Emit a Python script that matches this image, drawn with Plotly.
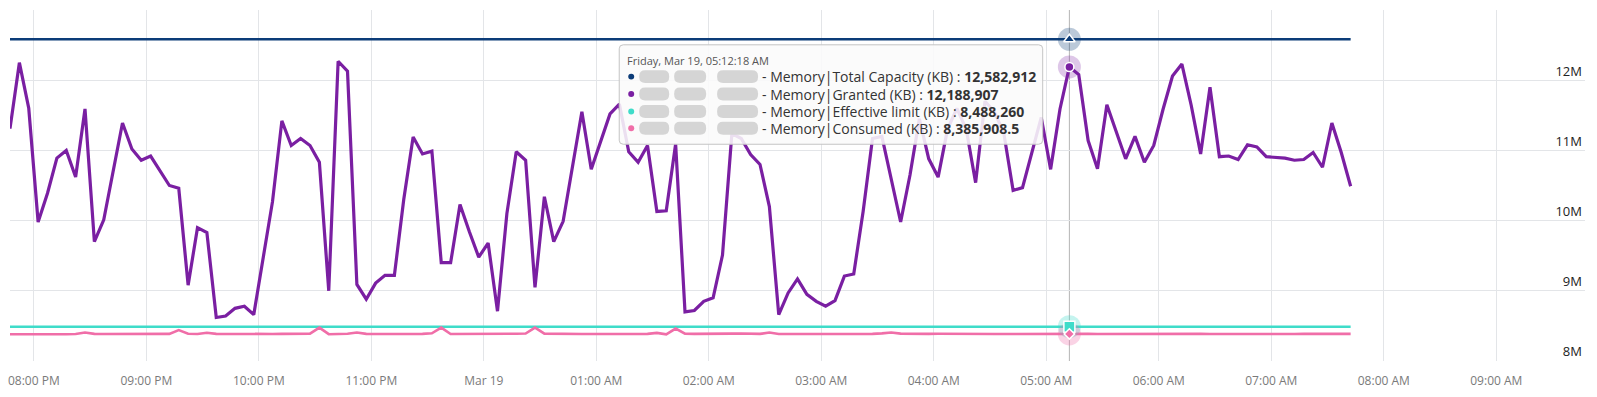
import plotly.graph_objects as go
import pandas as pd

# ---------------- data ----------------
START = "2021-03-18 19:47:18"          # first sample (5-minute interval)
HOVER_INDEX = 113                      # Friday, Mar 19, 05:12:18 AM

GRANTED_M = [
    11.31, 12.25, 11.60, 9.98, 10.39, 10.89, 11.00, 10.62, 11.59, 9.70,
    10.01, 10.69, 11.39, 11.02, 10.86, 10.92, 10.72, 10.50, 10.46, 9.08,
    9.90, 9.83, 8.62, 8.64, 8.75, 8.78, 8.66, 9.47, 10.27, 11.42,
    11.07, 11.17, 11.07, 10.83, 9.00, 12.27, 12.13, 9.09, 8.88, 9.11,
    9.22, 9.22, 10.30, 11.19, 10.95, 10.99, 9.40, 9.40, 10.23, 9.84,
    9.48, 9.68, 8.71, 10.10, 10.98, 10.86, 9.05, 10.34, 9.70, 9.99,
    10.79, 11.55, 10.73, 11.12, 11.52, 11.66, 10.98, 10.83, 11.07, 10.13,
    10.14, 11.09, 8.70, 8.72, 8.85, 8.90, 9.51, 11.24, 11.17, 10.94,
    10.80, 10.20, 8.66, 8.97, 9.17, 8.95, 8.85, 8.78, 8.86, 9.21,
    9.24, 10.13, 11.17, 11.20, 10.60, 9.98, 10.65, 11.45, 10.88, 10.62,
    11.30, 11.60, 11.30, 10.54, 11.70, 11.55, 11.25, 10.43, 10.47, 10.95,
    11.47, 10.73, 11.59, 12.188907, 12.08, 11.14, 10.74, 11.65, 11.26, 10.88,
    11.20, 10.83, 11.07, 11.59, 12.06, 12.23, 11.64, 10.95, 11.90, 10.91,
    10.92, 10.87, 11.08, 11.05, 10.91, 10.90, 10.89, 10.86, 10.87, 10.97,
    10.76, 11.39, 10.97, 10.49,
]

CONSUMED_M = [
    8.380, 8.382, 8.385, 8.386, 8.384, 8.382, 8.380, 8.384, 8.405, 8.386,
    8.384, 8.383, 8.382, 8.381, 8.382, 8.383, 8.384, 8.386, 8.440, 8.388,
    8.384, 8.402, 8.387, 8.385, 8.384, 8.384, 8.383, 8.384, 8.385, 8.386,
    8.385, 8.384, 8.390, 8.475, 8.382, 8.384, 8.388, 8.405, 8.386, 8.385,
    8.386, 8.385, 8.378, 8.384, 8.386, 8.395, 8.475, 8.385, 8.384, 8.387,
    8.386, 8.384, 8.385, 8.387, 8.388, 8.392, 8.475, 8.390, 8.386, 8.385,
    8.384, 8.384, 8.385, 8.386, 8.386, 8.385, 8.386, 8.388, 8.387, 8.400,
    8.380, 8.462, 8.388, 8.386, 8.385, 8.386, 8.387, 8.390, 8.392, 8.388,
    8.386, 8.405, 8.384, 8.385, 8.384, 8.386, 8.385, 8.384, 8.383, 8.384,
    8.386, 8.383, 8.386, 8.393, 8.405, 8.390, 8.386, 8.385, 8.386, 8.388,
    8.386, 8.385, 8.384, 8.385, 8.386, 8.384, 8.385, 8.386, 8.385, 8.384,
    8.386, 8.387, 8.386, 8.3859085, 8.385, 8.386, 8.384, 8.385, 8.386, 8.385,
    8.386, 8.387, 8.385, 8.384, 8.383, 8.385, 8.386, 8.386, 8.385, 8.384,
    8.386, 8.385, 8.384, 8.385, 8.386, 8.385, 8.384, 8.385, 8.386, 8.385,
    8.384, 8.386, 8.386, 8.386,
]

TOTAL_CAPACITY_KB = 12582912
EFFECTIVE_LIMIT_KB = 8488260

X_RANGE = ["2021-03-18 19:47:18", "2021-03-19 09:47:18"]
X_TICKS = pd.date_range("2021-03-18 20:00", "2021-03-19 09:00", freq="1h")
X_TICK_LABELS = ["08:00 PM", "09:00 PM", "10:00 PM", "11:00 PM", "Mar 19",
                 "01:00 AM", "02:00 AM", "03:00 AM", "04:00 AM", "05:00 AM",
                 "06:00 AM", "07:00 AM", "08:00 AM", "09:00 AM"]
Y_TICKS = [8e6, 9e6, 10e6, 11e6, 12e6, 13e6]
Y_TICK_LABELS = ["8M", "9M", "10M", "11M", "12M", ""]

SERIES_NAMES = ["Memory|Total Capacity (KB)", "Memory|Granted (KB)",
                "Memory|Effective limit (KB)", "Memory|Consumed (KB)"]
COLORS = ["#0c3c78", "#7a1fa2", "#3fdcc9", "#f06ea8"]
HALOS = ["rgba(12,60,120,0.28)", "rgba(122,31,162,0.25)",
         "rgba(63,220,201,0.30)", "rgba(240,110,168,0.30)"]
SYMBOLS = ["triangle-up", "circle", "square", "diamond"]

# ---------------- build ----------------
n = len(GRANTED_M)
times = pd.date_range(START, periods=n, freq="5min")
granted = [v * 1e6 for v in GRANTED_M]
consumed = [v * 1e6 for v in CONSUMED_M]
total = [TOTAL_CAPACITY_KB] * n
eff = [EFFECTIVE_LIMIT_KB] * n
series = [total, granted, eff, consumed]
widths = [2.6, 3.2, 2.6, 2.6]

fig = go.Figure()
for s, c, w, name in zip(series, COLORS, widths, SERIES_NAMES):
    fig.add_trace(go.Scatter(x=times, y=s, mode="lines", name=name,
                             line=dict(color=c, width=w), hoverinfo="skip"))

# hover markers
ht = times[HOVER_INDEX]
for s, c, h, sym in zip(series, COLORS, HALOS, SYMBOLS):
    fig.add_trace(go.Scatter(x=[ht], y=[s[HOVER_INDEX]], mode="markers",
                             marker=dict(size=23, color=h), hoverinfo="skip"))
sizes = [10, 9, 11, 8]
for s, c, sym, sz in zip(series, COLORS, SYMBOLS, sizes):
    fig.add_trace(go.Scatter(x=[ht], y=[s[HOVER_INDEX]], mode="markers",
                             marker=dict(size=sz, color=c, symbol=sym,
                                         line=dict(color="white", width=1.5)),
                             hoverinfo="skip"))

# ---------------- layout ----------------
W, H = 1597, 397
ML, MR, MT, MB = 8, 12, 10, 34
PW, PH = W - ML - MR, H - MT - MB


def px(x):
    return (x - ML) / PW


def py(y):
    return (H - MB - y) / PH


def rrect(x0, y0, x1, y1, r):
    pts = [
        f"M {px(x0 + r)},{py(y0)}", f"L {px(x1 - r)},{py(y0)}",
        f"Q {px(x1)},{py(y0)} {px(x1)},{py(y0 + r)}",
        f"L {px(x1)},{py(y1 - r)}",
        f"Q {px(x1)},{py(y1)} {px(x1 - r)},{py(y1)}",
        f"L {px(x0 + r)},{py(y1)}",
        f"Q {px(x0)},{py(y1)} {px(x0)},{py(y1 - r)}",
        f"L {px(x0)},{py(y0 + r)}",
        f"Q {px(x0)},{py(y0)} {px(x0 + r)},{py(y0)} Z",
    ]
    return " ".join(pts)


shapes = [
    dict(type="line", xref="x", yref="paper", x0=ht, x1=ht, y0=0, y1=1,
         line=dict(color="#b4b4b4", width=1), layer="below"),
    dict(type="path", xref="paper", yref="paper", path=rrect(618, 45, 1042, 145, 4),
         fillcolor="rgba(250,250,250,0.88)", line=dict(color="#c4c4c4", width=1),
         layer="above"),
]
annotations = [
    dict(xref="paper", yref="paper", x=px(624), y=py(61), xanchor="left",
         yanchor="middle", showarrow=False,
         text=ht.strftime("%A, %b %d, %I:%M:%S %p"),
         font=dict(family="Open Sans", size=11, color="#555555")),
]
row_y = [77, 94.5, 112, 129]
for ry, c, s, name in zip(row_y, COLORS, series, SERIES_NAMES):
    shapes.append(dict(type="circle", xref="paper", yref="paper",
                       x0=px(627), x1=px(633), y0=py(ry + 3), y1=py(ry - 3),
                       fillcolor=c, line=dict(width=0), layer="above"))
    for bx0, bx1 in [(638, 668), (673, 705), (716, 757)]:
        shapes.append(dict(type="path", xref="paper", yref="paper",
                           path=rrect(bx0, ry - 6.5, bx1, ry + 6.5, 6),
                           fillcolor="#d5d5d5", line=dict(width=0), layer="above"))
    v = s[HOVER_INDEX]
    vtxt = f"{v:,.1f}" if abs(v - round(v)) > 1e-6 else f"{int(round(v)):,}"
    annotations.append(dict(xref="paper", yref="paper", x=px(759), y=py(ry),
                            xanchor="left", yanchor="middle", showarrow=False,
                            text=f"- {name} : <b>{vtxt}</b>",
                            font=dict(family="Open Sans", size=14, color="#333333")))

fig.update_layout(
    width=W, height=H, margin=dict(l=ML, r=MR, t=MT, b=MB),
    paper_bgcolor="white", plot_bgcolor="white", showlegend=False,
    font=dict(family="Open Sans"), shapes=shapes, annotations=annotations,
    xaxis=dict(range=X_RANGE, tickvals=X_TICKS, ticktext=X_TICK_LABELS,
               showgrid=True, gridcolor="#e3e5e8", gridwidth=1, zeroline=False,
               showline=False, ticks="", ticklabelstandoff=11,
               tickfont=dict(size=12, color="#7a7a7a")),
    yaxis=dict(range=[8e6, 13e6], side="right", tickvals=Y_TICKS,
               ticktext=Y_TICK_LABELS, ticklabelposition="inside top",
               showgrid=True, gridcolor="#e3e5e8", gridwidth=1, zeroline=False,
               showline=False, ticks="", tickfont=dict(size=13, color="#222222")),
)

fig.write_html("out.html")
